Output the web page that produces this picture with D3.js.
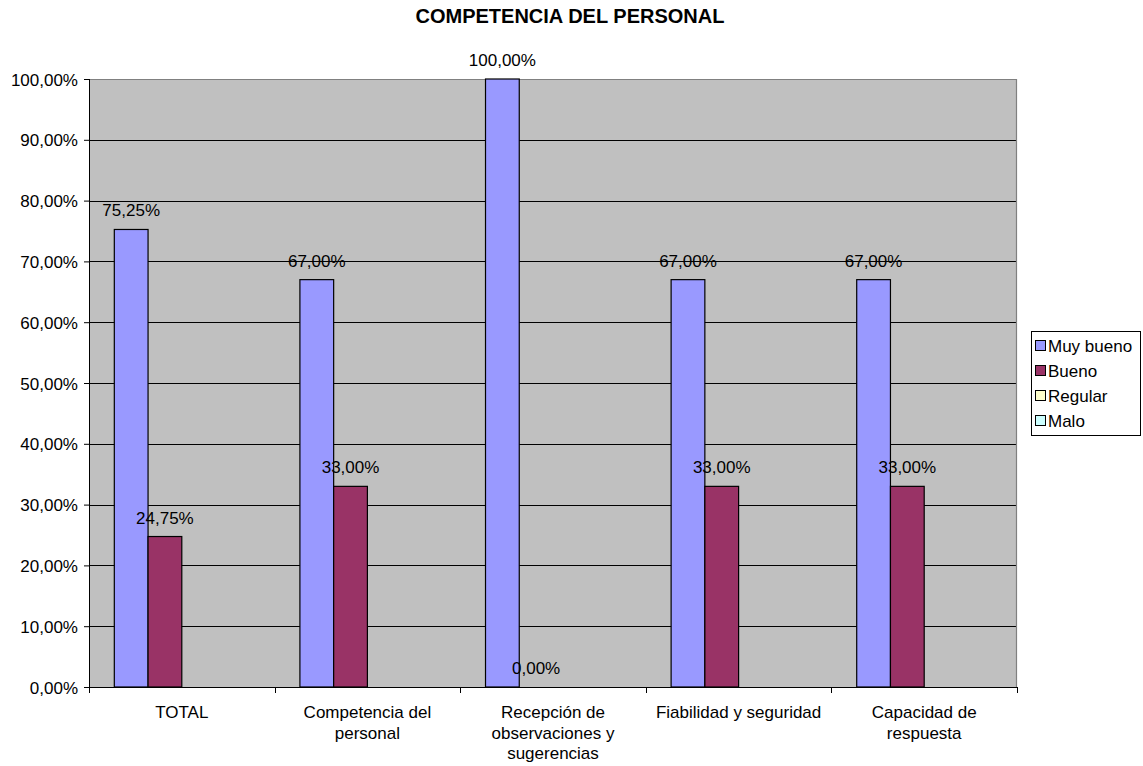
<!DOCTYPE html>
<html>
<head>
<meta charset="utf-8">
<script src="https://cdn.jsdelivr.net/npm/d3@7"></script>
<style>
  html, body { margin: 0; padding: 0; background: #fff; }
  svg { display: block; font-family: "Liberation Sans", Arial, sans-serif; }
</style>
</head>
<body>
<svg id="chart" width="1143" height="766"></svg>
<script>
// Survey results: staff competence ratings
const title = "COMPETENCIA DEL PERSONAL";
const categories = [
  "TOTAL",
  "Competencia del personal",
  "Recepción de observaciones y sugerencias",
  "Fiabilidad y seguridad",
  "Capacidad de respuesta"
];
const seriesNames = ["Muy bueno", "Bueno", "Regular", "Malo"];
const seriesColors = ["#9999FF", "#993366", "#FFFFCC", "#CCFFFF"];
// Values as fractions; null = no value recorded
const muyBueno = [0.7525, 0.67, 1.00, 0.67, 0.67];
const bueno    = [0.2475, 0.33, 0.00, 0.33, 0.33];
const regular  = [null, null, null, null, null];
const malo     = [null, null, null, null, null];
const yTicks = [0, 0.1, 0.2, 0.3, 0.4, 0.5, 0.6, 0.7, 0.8, 0.9, 1.0];

const seriesValues = [muyBueno, bueno, regular, malo];

const esLocale = d3.formatLocale({
  decimal: ",", thousands: ".", grouping: [3], currency: ["", " €"]
});
const pct = esLocale.format(".2%");

const svg = d3.select("#chart");
const plot = { left: 89, right: 1017, top: 79, bottom: 687 };
const FONT = 17;

const x = d3.scaleBand()
  .domain(categories)
  .range([plot.left, plot.right])
  .paddingInner(1.5 / 5.5)
  .paddingOuter(0.75 / 5.5);

const xs = d3.scaleBand()
  .domain(seriesNames)
  .range([0, x.bandwidth()])
  .padding(0);

const y = d3.scaleLinear().domain([0, 1]).range([plot.bottom, plot.top]);

// plot background
svg.append("rect")
  .attr("x", plot.left).attr("y", plot.top)
  .attr("width", plot.right - plot.left).attr("height", plot.bottom - plot.top)
  .attr("fill", "#C0C0C0");

// horizontal gridlines
svg.append("g").selectAll("line")
  .data(yTicks.filter(d => d > 0 && d < 1))
  .join("line")
  .attr("x1", plot.left).attr("x2", plot.right)
  .attr("y1", d => Math.round(y(d)) + 0.5).attr("y2", d => Math.round(y(d)) + 0.5)
  .attr("stroke", "#000").attr("stroke-width", 1);

// plot border (top & right)
svg.append("path")
  .attr("d", `M${plot.left},${plot.top + 0.5}H${plot.right - 0.5}V${plot.bottom}`)
  .attr("fill", "none").attr("stroke", "#808080").attr("stroke-width", 1.2);

// bars
const rows = [];
seriesNames.forEach((s, si) => {
  categories.forEach((c, ci) => {
    const v = seriesValues[si][ci];
    if (v !== null) rows.push({ s, si, c, v });
  });
});

svg.append("g").selectAll("rect")
  .data(rows.filter(d => d.v > 0))
  .join("rect")
  .attr("x", d => x(d.c) + xs(d.s))
  .attr("y", d => y(d.v))
  .attr("width", xs.bandwidth())
  .attr("height", d => y(0) - y(d.v))
  .attr("fill", d => seriesColors[d.si])
  .attr("stroke", "#000").attr("stroke-width", 1.2);

// data labels
svg.append("g").selectAll("text")
  .data(rows)
  .join("text")
  .attr("x", d => x(d.c) + xs(d.s) + xs.bandwidth() / 2)
  .attr("y", d => y(d.v) - 13)
  .attr("text-anchor", "middle")
  .attr("font-size", FONT)
  .attr("fill", "#000")
  .text(d => pct(d.v));

// y axis
const yAxis = svg.append("g")
  .attr("transform", `translate(${plot.left},0)`)
  .call(d3.axisLeft(y).tickValues(yTicks).tickFormat(pct).tickSize(5).tickPadding(6));
yAxis.select(".domain").attr("stroke", "#000").attr("d", `M0.5,${plot.top}V${plot.bottom}`);
yAxis.selectAll(".tick line").attr("stroke", "#000");
yAxis.selectAll(".tick text")
  .attr("font-size", FONT).attr("font-family", "Liberation Sans, Arial, sans-serif")
  .attr("fill", "#000").attr("dy", "0.36em");

// x axis baseline and boundary ticks
const half = x.step() * x.paddingInner() / 2;
const boundaries = categories.map(c => x(c) - half).concat([x(categories[categories.length - 1]) + x.bandwidth() + half]);
const xAxis = svg.append("g");
xAxis.append("line")
  .attr("x1", plot.left).attr("x2", plot.right)
  .attr("y1", plot.bottom + 0.5).attr("y2", plot.bottom + 0.5)
  .attr("stroke", "#000");
xAxis.selectAll("line.tick")
  .data(boundaries)
  .join("line")
  .attr("class", "tick")
  .attr("x1", d => Math.round(d) + 0.5).attr("x2", d => Math.round(d) + 0.5)
  .attr("y1", plot.bottom).attr("y2", plot.bottom + 6)
  .attr("stroke", "#000");

// category labels, wrapped to the band width
function wrapLines(text, maxW) {
  const probe = svg.append("text").attr("font-size", FONT);
  const words = text.split(" ");
  const lines = [];
  let cur = [];
  words.forEach(w => {
    const test = cur.concat([w]).join(" ");
    probe.text(test);
    if (probe.node().getComputedTextLength() > maxW && cur.length) {
      lines.push(cur.join(" "));
      cur = [w];
    } else {
      cur.push(w);
    }
  });
  if (cur.length) lines.push(cur.join(" "));
  probe.remove();
  return lines;
}

const catLabels = svg.append("g").selectAll("text")
  .data(categories)
  .join("text")
  .attr("text-anchor", "middle")
  .attr("font-size", FONT)
  .attr("fill", "#000");
catLabels.each(function (c) {
  const lines = wrapLines(c, 172);
  const cx = x(c) + x.bandwidth() / 2;
  d3.select(this).selectAll("tspan")
    .data(lines)
    .join("tspan")
    .attr("x", cx)
    .attr("y", (d, i) => 718 + i * 20.5)
    .text(d => d);
});

// title
svg.append("text")
  .attr("x", 570).attr("y", 23)
  .attr("text-anchor", "middle")
  .attr("font-size", 20).attr("font-weight", "bold")
  .text(title);

// legend
const lg = svg.append("g").attr("transform", "translate(1031,331)");
lg.append("rect")
  .attr("x", 0.5).attr("y", 0.5).attr("width", 109).attr("height", 104)
  .attr("fill", "#fff").attr("stroke", "#000");
const items = lg.selectAll("g.item")
  .data(seriesNames)
  .join("g")
  .attr("class", "item")
  .attr("transform", (d, i) => `translate(0,${15 + i * 25})`);
items.append("rect")
  .attr("x", 4.5).attr("y", -5.5).attr("width", 10).attr("height", 10)
  .attr("fill", (d, i) => seriesColors[i]).attr("stroke", "#000");
items.append("text")
  .attr("x", 17).attr("y", 0).attr("dy", "0.36em")
  .attr("font-size", FONT)
  .text(d => d);
</script>
</body>
</html>
